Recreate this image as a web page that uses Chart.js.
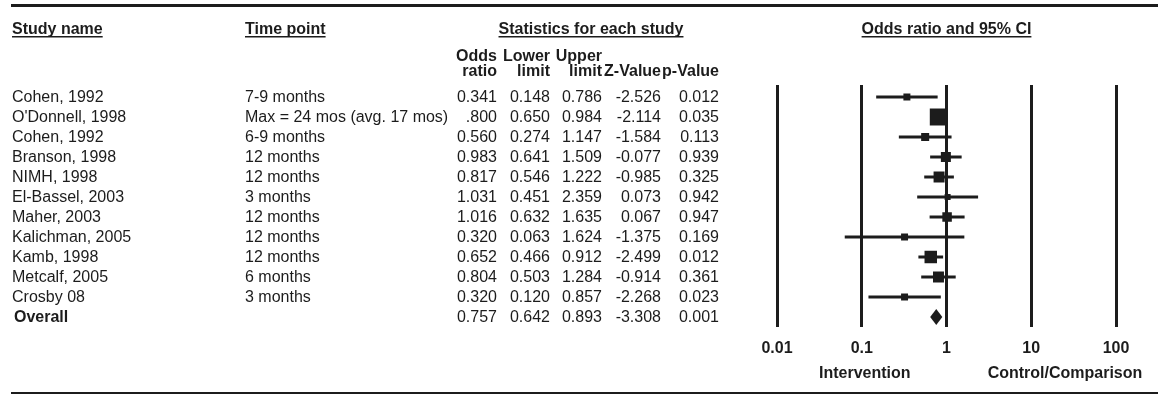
<!DOCTYPE html>
<html>
<head>
<meta charset="utf-8">
<script src="https://cdn.jsdelivr.net/npm/chart.js@4.4.1/dist/chart.umd.min.js"></script>
<style>
  html, body { margin: 0; padding: 0; background: #fff; }
  #wrap { width: 1158px; height: 395px; }
</style>
</head>
<body>
<div id="wrap"><canvas id="forest" width="1158" height="395"></canvas></div>
<script>
// table rows, as printed
const studyNames = ['Cohen, 1992', "O'Donnell, 1998", 'Cohen, 1992', 'Branson, 1998', 'NIMH, 1998',
  'El-Bassel, 2003', 'Maher, 2003', 'Kalichman, 2005', 'Kamb, 1998', 'Metcalf, 2005', 'Crosby 08'];
const timePoints = ['7-9 months', 'Max = 24 mos (avg. 17 mos)', '6-9 months', '12 months', '12 months',
  '3 months', '12 months', '12 months', '12 months', '6 months', '3 months'];
const oddsRatio = ['0.341', '.800', '0.560', '0.983', '0.817', '1.031', '1.016', '0.320', '0.652', '0.804', '0.320'];
const lowerLimit = ['0.148', '0.650', '0.274', '0.641', '0.546', '0.451', '0.632', '0.063', '0.466', '0.503', '0.120'];
const upperLimit = ['0.786', '0.984', '1.147', '1.509', '1.222', '2.359', '1.635', '1.624', '0.912', '1.284', '0.857'];
const zValue = ['-2.526', '-2.114', '-1.584', '-0.077', '-0.985', '0.073', '0.067', '-1.375', '-2.499', '-0.914', '-2.268'];
const pValue = ['0.012', '0.035', '0.113', '0.939', '0.325', '0.942', '0.947', '0.169', '0.012', '0.361', '0.023'];
// relative weight (%)
const relWeight = [4.5, 26.5, 5.9, 9.2, 11.1, 3.3, 8.3, 4.5, 14.3, 11.1, 4.5];

const overall = { name: 'Overall', or: '0.757', lower: '0.642', upper: '0.893', z: '-3.308', p: '0.001' };

const tickValues = [0.01, 0.1, 1, 10, 100];
const tickLabels = ['0.01', '0.1', '1', '10', '100'];

const INK = '#1c1c1c';
const FONT = '"Liberation Sans", Arial, Helvetica, sans-serif';
const nRows = studyNames.length + 1;

// confidence interval lines, one dataset per study
const ciSets = studyNames.map((name, i) => ({
    type: 'line',
    label: name + ' CI',
    data: [{ x: parseFloat(lowerLimit[i]), y: i }, { x: parseFloat(upperLimit[i]), y: i }],
    borderColor: INK,
    borderWidth: 3,
    pointRadius: 0,
    showLine: true
}));

const squareSet = {
    type: 'scatter',
    label: 'Odds ratio',
    data: oddsRatio.map((v, i) => ({ x: parseFloat(v), y: i })),
    pointStyle: 'rect',
    pointRadius: relWeight.map(w => 3.3 * Math.sqrt(w) / Math.SQRT2),
    pointBorderWidth: 0,
    backgroundColor: INK
};

// table text, rules, diamond
const tablePlugin = {
    id: 'forestTable',
    afterDraw(chart) {
        const ctx = chart.ctx;
        const x = chart.scales.x;
        const y = chart.scales.y;
        const reg = '16px ' + FONT;
        const bold = 'bold 16px ' + FONT;

        ctx.save();
        ctx.fillStyle = INK;
        ctx.strokeStyle = INK;

        // rules
        ctx.fillRect(11, 4, 1147, 3);
        ctx.fillRect(11, 392, 1147, 2);

        const underlined = (text, px, py, align) => {
            ctx.font = bold;
            ctx.textAlign = align;
            ctx.fillText(text, px, py);
            const w = ctx.measureText(text).width;
            const x0 = align === 'center' ? px - w / 2 : px;
            ctx.fillRect(x0, py + 2, w, 1.5);
        };
        ctx.textBaseline = 'alphabetic';
        underlined('Study name', 12, 34, 'left');
        underlined('Time point', 245, 34, 'left');
        underlined('Statistics for each study', 591, 34, 'center');
        underlined('Odds ratio and 95% CI', (chart.chartArea.left + chart.chartArea.right) / 2, 34, 'center');

        const colRight = [497, 550, 602, 661, 719];
        const head1 = ['Odds', 'Lower', 'Upper', '', ''];
        const head2 = ['ratio', 'limit', 'limit', 'Z-Value', 'p-Value'];
        ctx.font = bold;
        ctx.textAlign = 'right';
        colRight.forEach((cx, k) => {
            ctx.fillText(head1[k], cx, 61);
            ctx.fillText(head2[k], cx, 76);
        });

        ctx.font = reg;
        studyNames.forEach((name, i) => {
            const py = y.getPixelForValue(i) + 5;
            ctx.textAlign = 'left';
            ctx.fillText(name, 12, py);
            ctx.fillText(timePoints[i], 245, py);
            ctx.textAlign = 'right';
            [oddsRatio, lowerLimit, upperLimit, zValue, pValue].forEach((col, k) => {
                ctx.fillText(col[i], colRight[k], py);
            });
        });

        const oy = y.getPixelForValue(nRows - 1);
        ctx.font = bold;
        ctx.textAlign = 'left';
        ctx.fillText(overall.name, 14, oy + 5);
        ctx.font = reg;
        ctx.textAlign = 'right';
        [overall.or, overall.lower, overall.upper, overall.z, overall.p].forEach((v, k) => {
            ctx.fillText(v, colRight[k], oy + 5);
        });

        // overall diamond
        const xl = x.getPixelForValue(parseFloat(overall.lower));
        const xm = x.getPixelForValue(parseFloat(overall.or));
        const xr = x.getPixelForValue(parseFloat(overall.upper));
        ctx.beginPath();
        ctx.moveTo(xl, oy);
        ctx.lineTo(xm, oy - 8);
        ctx.lineTo(xr, oy);
        ctx.lineTo(xm, oy + 8);
        ctx.closePath();
        ctx.fill();

        // direction captions
        ctx.font = bold;
        ctx.textAlign = 'center';
        ctx.fillText('Intervention', x.getPixelForValue(0.1) + 3, 378);
        ctx.fillText('Control/Comparison', x.getPixelForValue(25), 378);
        ctx.restore();
    }
};

new Chart(document.getElementById('forest'), {
    type: 'scatter',
    data: { datasets: [...ciSets, squareSet] },
    options: {
        responsive: false,
        animation: false,
        layout: { padding: { left: 777, right: 42, top: 85, bottom: 0 } },
        scales: {
            x: {
                type: 'logarithmic',
                min: 0.01,
                max: 100,
                afterBuildTicks: axis => { axis.ticks = tickValues.map(v => ({ value: v })); },
                afterFit: axis => { axis.height = 68; },
                grid: { color: INK, lineWidth: 3, drawTicks: false },
                border: { display: false },
                ticks: {
                    padding: 12,
                    color: INK,
                    font: { family: FONT, size: 16, weight: 'bold' },
                    autoSkip: false,
                    maxRotation: 0,
                    callback: (value, index) => tickLabels[index]
                }
            },
            y: {
                type: 'linear',
                reverse: true,
                min: -0.6,
                max: nRows - 0.5,
                display: false
            }
        },
        plugins: {
            legend: { display: false },
            tooltip: { enabled: false }
        }
    },
    plugins: [tablePlugin]
});
</script>
</body>
</html>
